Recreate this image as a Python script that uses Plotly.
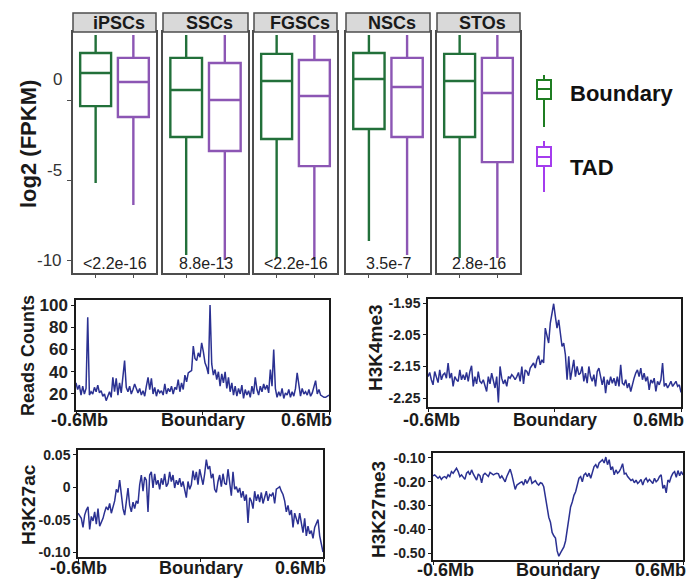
import plotly.graph_objects as go
import numpy as np

W, H = 693, 579
FONT = "Liberation Sans"


def fx(p):
    return p / W


def fy(p):
    return 1 - p / H


# ---------------- box plot data ----------------
cell_types = ["iPSCs", "SSCs", "FGSCs", "NSCs", "STOs"]
pvals = ["<2.2e-16", "8.8e-13", "<2.2e-16", "3.5e-7", "2.8e-16"]

bnd_upper = [4.06, 4.06, 4.06, 4.06, 4.06]
bnd_q3 = [2.94, 2.63, 2.88, 2.94, 2.88]
bnd_med = [1.69, 0.63, 1.19, 1.31, 1.19]
bnd_q1 = [-0.38, -2.31, -2.44, -1.81, -2.31]
bnd_low = [-5.19, -9.69, -9.90, -8.81, -9.88]

tad_upper = [4.06, 4.06, 4.06, 4.06, 4.06]
tad_q3 = [2.63, 2.31, 2.50, 2.63, 2.63]
tad_med = [1.13, 0.00, 0.25, 0.81, 0.44]
tad_q1 = [-1.06, -3.19, -4.13, -2.31, -3.88]
tad_low = [-6.56, -10.0, -10.0, -9.69, -9.88]

box_ticks = [0, -5, -10]
box_tick_text = ["0", "-5", "-10"]

# ---------------- profile data ----------------
x_ticks = [-0.6, 0.0, 0.6]
x_tick_text = ["-0.6Mb", "Boundary", "0.6Mb"]

reads_counts = [
    30, 24, 28, 19, 27, 20, 25, 89, 19, 22,
    20, 26, 22, 28, 21, 23, 18, 20, 14, 18,
    22, 17, 35, 22, 34, 19, 30, 21, 33, 50,
    26, 22, 27, 20, 24, 29, 25, 21, 25, 19,
    23, 18, 27, 35, 24, 34, 20, 26, 18, 24,
    21, 23, 19, 29, 20, 25, 22, 27, 20, 26,
    24, 33, 22, 30, 24, 37, 31, 39, 40, 41,
    63, 52, 50, 57, 53, 66, 58, 48, 44, 38,
    100, 47, 37, 42, 33, 40, 27, 38, 30, 40,
    25, 35, 22, 30, 19, 27, 18, 25, 20, 28,
    16, 24, 19, 23, 17, 27, 20, 35, 24, 19,
    27, 22, 29, 24, 28, 21, 42, 27, 60, 25,
    17, 22, 18, 25, 16, 21, 19, 24, 17, 22,
    18, 25, 39, 28, 18, 25, 20, 22, 19, 24,
    18, 21, 26, 32, 20, 24, 19, 18, 17, 17,
    18, 19,
]

h3k4me3 = [
    -2.182, -2.169, -2.192, -2.208, -2.166, -2.187, -2.201, -2.161, -2.192, -2.176,
    -2.171, -2.187, -2.139, -2.187, -2.171, -2.213, -2.182, -2.192, -2.197, -2.161,
    -2.192, -2.176, -2.192, -2.169, -2.197, -2.166, -2.148, -2.213, -2.182, -2.205,
    -2.166, -2.197, -2.203, -2.192, -2.208, -2.229, -2.182, -2.205, -2.171, -2.192,
    -2.218, -2.182, -2.264, -2.150, -2.187, -2.205, -2.192, -2.213, -2.182, -2.187,
    -2.176, -2.182, -2.192, -2.182, -2.169, -2.197, -2.150, -2.205, -2.161, -2.166,
    -2.179, -2.155, -2.145, -2.139, -2.155, -2.129, -2.116, -2.145, -2.129, -2.139,
    -2.029, -2.055, -2.076, -2.013, -1.987, -1.952, -1.992, -2.029, -2.003, -2.055,
    -2.087, -2.076, -2.113, -2.192, -2.118, -2.192, -2.161, -2.129, -2.182, -2.150,
    -2.176, -2.171, -2.150, -2.197, -2.171, -2.203, -2.150, -2.182, -2.197, -2.176,
    -2.213, -2.166, -2.155, -2.187, -2.208, -2.182, -2.234, -2.192, -2.208, -2.182,
    -2.203, -2.187, -2.211, -2.182, -2.213, -2.145, -2.203, -2.208, -2.192, -2.218,
    -2.203, -2.229, -2.203, -2.187, -2.171, -2.161, -2.182, -2.155, -2.192, -2.171,
    -2.197, -2.182, -2.224, -2.192, -2.203, -2.187, -2.229, -2.197, -2.208, -2.192,
    -2.139, -2.213, -2.203, -2.218, -2.208, -2.197, -2.213, -2.205, -2.197, -2.213,
    -2.208, -2.232,
]

h3k27ac = [
    -0.040, -0.045, -0.048, -0.062, -0.043, -0.035, -0.030, -0.065, -0.045, -0.052,
    -0.038, -0.057, -0.033, -0.060, -0.055, -0.048, -0.038, -0.030, -0.035, -0.025,
    -0.040, -0.028, -0.021, -0.003, -0.008, 0.011, -0.013, -0.033, -0.043, -0.025,
    -0.001, -0.028, -0.038, -0.023, -0.033, -0.021, -0.025, 0.004, 0.019, -0.006,
    0.016, 0.011, -0.038, 0.019, 0.024, -0.001, 0.021, 0.004, 0.011, -0.003,
    0.014, 0.004, 0.021, 0.001, 0.006, 0.024, 0.009, 0.019, -0.001, 0.011,
    0.004, 0.014, 0.001, 0.009, -0.003, -0.016, 0.009, -0.003, 0.004, 0.026,
    0.011, 0.024, 0.004, 0.028, 0.016, 0.004, 0.021, 0.043, 0.028, 0.033,
    0.014, 0.021, -0.003, -0.008, 0.009, 0.019, 0.001, 0.021, 0.006, 0.004,
    0.028, 0.011, -0.013, 0.024, -0.003, 0.001, -0.008, -0.001, -0.016, -0.006,
    -0.021, -0.011, -0.055, -0.016, -0.021, -0.033, -0.006, -0.021, -0.011, -0.023,
    -0.008, -0.025, -0.016, -0.006, -0.021, -0.011, -0.013, -0.008, -0.025, -0.003,
    -0.001, 0.001, -0.006, -0.011, -0.021, -0.038, -0.028, -0.043, -0.035, -0.062,
    -0.040, -0.048, -0.057, -0.040, -0.055, -0.070, -0.048, -0.075, -0.060, -0.072,
    -0.067, -0.079, -0.062, -0.055, -0.050, -0.075, -0.089, -0.100,
]

h3k27me3 = [
    -0.175, -0.171, -0.178, -0.185, -0.178, -0.190, -0.181, -0.178, -0.185, -0.171,
    -0.178, -0.157, -0.164, -0.153, -0.143, -0.157, -0.178, -0.171, -0.181, -0.190,
    -0.164, -0.157, -0.171, -0.150, -0.167, -0.178, -0.193, -0.167, -0.175, -0.204,
    -0.171, -0.164, -0.171, -0.178, -0.161, -0.167, -0.171, -0.167, -0.164, -0.167,
    -0.185, -0.175, -0.190, -0.200, -0.178, -0.164, -0.147, -0.171, -0.200, -0.232,
    -0.214, -0.207, -0.204, -0.200, -0.214, -0.190, -0.207, -0.193, -0.178, -0.207,
    -0.200, -0.195, -0.207, -0.214, -0.204, -0.207, -0.221, -0.264, -0.299, -0.349,
    -0.370, -0.413, -0.427, -0.437, -0.491, -0.513, -0.499, -0.484, -0.474, -0.449,
    -0.403, -0.356, -0.306, -0.285, -0.257, -0.242, -0.207, -0.185, -0.178, -0.200,
    -0.171, -0.164, -0.178, -0.164, -0.185, -0.157, -0.136, -0.128, -0.143, -0.121,
    -0.114, -0.107, -0.121, -0.096, -0.128, -0.107, -0.150, -0.136, -0.171, -0.150,
    -0.164, -0.157, -0.143, -0.124, -0.167, -0.164, -0.178, -0.185, -0.195, -0.190,
    -0.204, -0.193, -0.207, -0.200, -0.190, -0.214, -0.193, -0.185, -0.200, -0.190,
    -0.200, -0.207, -0.185, -0.200, -0.193, -0.178, -0.171, -0.228, -0.214, -0.247,
    -0.193, -0.200, -0.178, -0.164, -0.157, -0.181, -0.153, -0.175, -0.157, -0.171,
]

GREEN = "#22703a"
PURPLE = "#8c56b4"
LEG_GREEN = "#1f7d22"
LEG_PURPLE = "#a43cee"
NAVY = "#2b3192"
FRAME = "#4d4d4d"

fig = go.Figure()

box_panels = [(73, 156), (163, 248), (254, 337), (346, 430), (437, 520)]
BOX_TOP, BOX_BOT = 32, 273

layout = {}
annotations = []
shapes = []


def ax_names(n):
    return ("x" if n == 1 else f"x{n}", "y" if n == 1 else f"y{n}",
            "xaxis" if n == 1 else f"xaxis{n}", "yaxis" if n == 1 else f"yaxis{n}")


for i, ct in enumerate(cell_types):
    n = i + 1
    xr, yr, xk, yk = ax_names(n)
    fig.add_trace(go.Box(
        x=[1], q1=[bnd_q1[i]], median=[bnd_med[i]], q3=[bnd_q3[i]],
        lowerfence=[bnd_low[i]], upperfence=[bnd_upper[i]],
        xaxis=xr, yaxis=yr, line=dict(color=GREEN, width=2.4),
        fillcolor="white", width=0.82, whiskerwidth=0, boxpoints=False,
        name="Boundary", hoverinfo="skip"))
    fig.add_trace(go.Box(
        x=[2], q1=[tad_q1[i]], median=[tad_med[i]], q3=[tad_q3[i]],
        lowerfence=[tad_low[i]], upperfence=[tad_upper[i]],
        xaxis=xr, yaxis=yr, line=dict(color=PURPLE, width=2.4),
        fillcolor="white", width=0.82, whiskerwidth=0, boxpoints=False,
        name="TAD", hoverinfo="skip"))
    l, r = box_panels[i]
    layout[xk] = dict(domain=[fx(l), fx(r)], anchor=yr, range=[0.4, 2.6],
                      showline=True, mirror=True, linecolor=FRAME, linewidth=1.5,
                      ticks="outside", ticklen=3, tickcolor=FRAME, tickvals=[1, 2],
                      showticklabels=False, showgrid=False, zeroline=False,
                      automargin=False, fixedrange=True)
    layout[yk] = dict(domain=[fy(BOX_BOT), fy(BOX_TOP)], anchor=xr, range=[-10.81, 4.25],
                      showline=True, mirror=True, linecolor=FRAME, linewidth=1.5,
                      ticks="outside" if n == 1 else "", ticklen=4, tickcolor=FRAME,
                      tickvals=box_ticks if n == 1 else [], showticklabels=False,
                      showgrid=False, zeroline=False, automargin=False, fixedrange=True)
    # strip header
    shapes.append(dict(type="rect", xref="paper", yref="paper",
                       x0=fx(l), x1=fx(r), y0=fy(32), y1=fy(13),
                       fillcolor="#d9d9d9", line=dict(color=FRAME, width=1.5)))
    annotations.append(dict(text=f"<b>{ct}</b>", xref="paper", yref="paper",
                            x=fx((l + r) / 2 + 4), y=fy(22.5), showarrow=False,
                            xanchor="center", yanchor="middle",
                            font=dict(family=FONT, size=18, color="#1a1a1a")))
    annotations.append(dict(text=pvals[i], xref="paper", yref="paper",
                            x=fx((l + r) / 2), y=fy(263), showarrow=False,
                            xanchor="center", yanchor="middle",
                            font=dict(family=FONT, size=16, color="#222222")))

# box y tick labels (drawn where the original places them)
for txt, py in zip(box_tick_text, [80, 170, 260]):
    annotations.append(dict(text=txt, xref="paper", yref="paper", x=fx(64), y=fy(py),
                            showarrow=False, xanchor="right", yanchor="middle",
                            font=dict(family=FONT, size=17, color="#333333")))

annotations.append(dict(text="<b>log2 (FPKM)</b>", xref="paper", yref="paper",
                        x=fx(28), y=fy(144), showarrow=False, textangle=-90,
                        xanchor="center", yanchor="middle",
                        font=dict(family=FONT, size=22, color="#1a1a1a")))

# legend glyphs
for col, (wt, bt, mid, bb, wb, ty), lab in [
        (LEG_GREEN, (75, 80, 89, 99, 127, 93), "Boundary"),
        (LEG_PURPLE, (141, 147, 157, 166, 192, 167), "TAD")]:
    cx = 544
    shapes.append(dict(type="line", xref="paper", yref="paper", x0=fx(cx), x1=fx(cx),
                       y0=fy(wt), y1=fy(bt), line=dict(color=col, width=2)))
    shapes.append(dict(type="line", xref="paper", yref="paper", x0=fx(cx), x1=fx(cx),
                       y0=fy(bb), y1=fy(wb), line=dict(color=col, width=2)))
    shapes.append(dict(type="rect", xref="paper", yref="paper", x0=fx(537), x1=fx(551),
                       y0=fy(bb), y1=fy(bt), line=dict(color=col, width=2),
                       fillcolor="white"))
    shapes.append(dict(type="line", xref="paper", yref="paper", x0=fx(537), x1=fx(551),
                       y0=fy(mid), y1=fy(mid), line=dict(color=col, width=2)))
    annotations.append(dict(text=f"<b>{lab}</b>", xref="paper", yref="paper",
                            x=fx(568), y=fy(ty), showarrow=False, xanchor="left",
                            yanchor="middle",
                            font=dict(family=FONT, size=22, color="#111111")))

# ---------------- profile panels ----------------
# (values, plot box px, y range, y ticks, y tick text, tick font, title, title pos,
#  title size, x-label row y, left-label x shift)
profiles = [
    (reads_counts, (76, 329, 300, 410), [5.6, 104.5], [20, 40, 60, 80, 100],
     ["20", "40", "60", "80", "100"], 17, "Reads Counts", (28, 356), 18, 420, 3),
    (h3k4me3, (428, 681, 299, 407), [-2.278, -1.937], [-2.25, -2.15, -2.05, -1.95],
     ["-2.25", "-2.15", "-2.05", "-1.95"], 14, "H3K4me3", (375, 348), 19, 420, 3),
    (h3k27ac, (78, 323, 450, 557), [-0.1077, 0.0577], [-0.10, -0.05, 0.0, 0.05],
     ["-0.10", "-0.05", "0", "0.05"], 14, "H3K27ac", (28, 505), 19, 568, 0),
    (h3k27me3, (433, 683, 453, 560), [-0.529, -0.079], [-0.5, -0.4, -0.3, -0.2, -0.1],
     ["-0.50", "-0.40", "-0.30", "-0.20", "-0.10"], 14, "H3K27me3", (378, 510), 19, 570, 12),
]

for k, (vals, (l, r, t, b), yrange, yt, ytt, yfs, title, (tx, ty), tfs, lab_y, lshift) in enumerate(profiles):
    n = 6 + k
    xr, yr, xk, yk = ax_names(n)
    xs = np.linspace(-0.6, 0.6, len(vals))
    fig.add_trace(go.Scatter(x=xs, y=vals, mode="lines", xaxis=xr, yaxis=yr,
                             line=dict(color=NAVY, width=1.5), hoverinfo="skip"))
    layout[xk] = dict(domain=[fx(l), fx(r)], anchor=yr, range=[-0.6, 0.6],
                      showline=True, mirror=True, linecolor="#1a1a1a", linewidth=1.5,
                      ticks="outside", ticklen=3, tickcolor="#1a1a1a",
                      tickvals=x_ticks, showticklabels=False,
                      showgrid=False, zeroline=False, automargin=False, fixedrange=True)
    layout[yk] = dict(domain=[fy(b), fy(t)], anchor=xr, range=yrange,
                      showline=True, mirror=True, linecolor="#1a1a1a", linewidth=1.5,
                      ticks="outside", ticklen=3, tickcolor="#1a1a1a",
                      tickvals=yt, ticktext=ytt,
                      tickfont=dict(family=FONT, size=yfs, color="#222222", weight="bold"),
                      showgrid=False, zeroline=False, automargin=False, fixedrange=True)
    annotations.append(dict(text=f"<b>{title}</b>", xref="paper", yref="paper",
                            x=fx(tx), y=fy(ty), showarrow=False, textangle=-90,
                            xanchor="center", yanchor="middle",
                            font=dict(family=FONT, size=tfs, color="#1a1a1a")))
    # x tick labels placed on the axis scale (left centred, right flush with the end)
    for xv, txt, anch, shift in zip(x_ticks, x_tick_text, ["center", "center", "right"],
                                    [lshift, 0, 5]):
        annotations.append(dict(text=f"<b>{txt}</b>", xref=xr, yref="paper",
                                x=xv, y=fy(lab_y), showarrow=False, xanchor=anch,
                                yanchor="middle", xshift=shift,
                                font=dict(family=FONT, size=18, color="#1a1a1a")))

fig.update_layout(
    width=W, height=H, margin=dict(l=0, r=0, t=0, b=0, autoexpand=False),
    paper_bgcolor="white", plot_bgcolor="white", showlegend=False,
    font=dict(family=FONT), annotations=annotations, shapes=shapes, **layout)

fig.write_html("out.html")
